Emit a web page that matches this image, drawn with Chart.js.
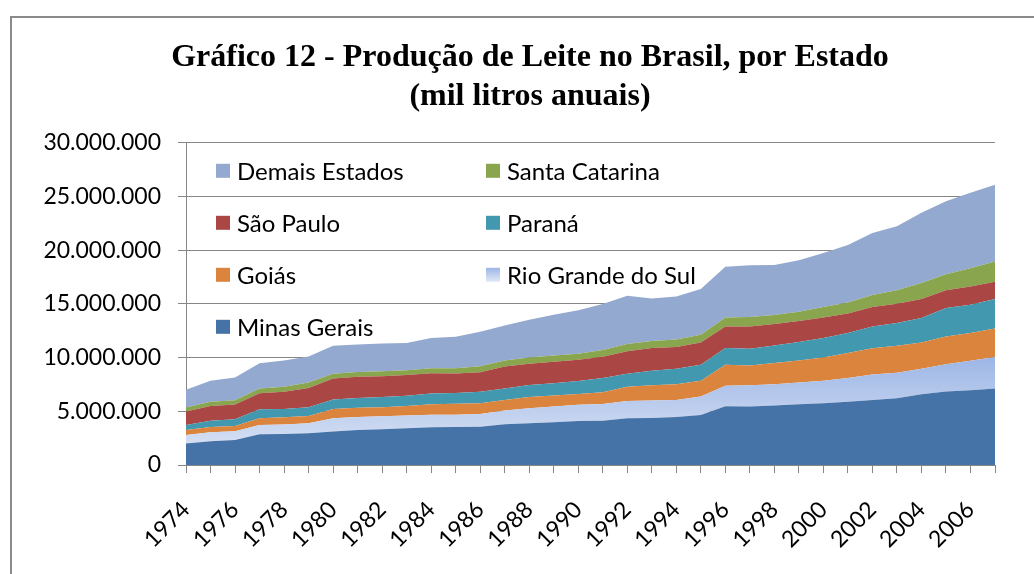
<!DOCTYPE html>
<html>
<head>
<meta charset="utf-8">
<script src="https://cdn.jsdelivr.net/npm/chart.js@4.4.0/dist/chart.umd.min.js"></script>
<style>
  html, body { margin: 0; padding: 0; background: #fff; }
  #wrap { width: 1034px; height: 574px; position: relative; }
</style>
</head>
<body>
<div id="wrap"><canvas id="c" width="1034" height="574"></canvas></div>
<script>
const years = ['1974','1975','1976','1977','1978','1979','1980','1981','1982','1983','1984','1985','1986','1987','1988','1989','1990','1991','1992','1993','1994','1995','1996','1997','1998','1999','2000','2001','2002','2003','2004','2005','2006','2007'];

const minasGerais = [2000000, 2210000, 2330000, 2860000, 2880000, 2950000, 3110000, 3260000, 3330000, 3420000, 3510000, 3530000, 3570000, 3800000, 3890000, 3980000, 4100000, 4130000, 4350000, 4380000, 4480000, 4660000, 5470000, 5440000, 5530000, 5660000, 5750000, 5880000, 6060000, 6220000, 6590000, 6840000, 6970000, 7120000];
const rioGrandeDoSul = [800000, 840000, 810000, 870000, 880000, 940000, 1240000, 1220000, 1210000, 1180000, 1180000, 1150000, 1190000, 1270000, 1400000, 1460000, 1500000, 1560000, 1620000, 1620000, 1580000, 1710000, 1900000, 1990000, 2000000, 2020000, 2090000, 2210000, 2370000, 2360000, 2370000, 2550000, 2730000, 2930000];
const goias = [460000, 490000, 500000, 620000, 690000, 680000, 870000, 840000, 840000, 900000, 970000, 1020000, 990000, 990000, 1050000, 1030000, 1020000, 1090000, 1310000, 1430000, 1470000, 1470000, 1960000, 1840000, 1960000, 2050000, 2160000, 2330000, 2450000, 2520000, 2450000, 2580000, 2590000, 2660000];
const parana = [470000, 590000, 620000, 840000, 770000, 810000, 870000, 930000, 940000, 940000, 990000, 1000000, 1060000, 1060000, 1120000, 1150000, 1190000, 1310000, 1210000, 1340000, 1430000, 1490000, 1570000, 1550000, 1640000, 1720000, 1820000, 1870000, 2020000, 2120000, 2270000, 2650000, 2640000, 2750000];
const saoPaulo = [1240000, 1370000, 1370000, 1500000, 1590000, 1800000, 1960000, 1960000, 1950000, 1930000, 1900000, 1820000, 1830000, 2050000, 1960000, 1990000, 1990000, 1980000, 2110000, 2120000, 2020000, 2080000, 2000000, 2080000, 1990000, 1950000, 1920000, 1820000, 1810000, 1800000, 1780000, 1640000, 1700000, 1610000];
const santaCatarina = [380000, 400000, 400000, 430000, 470000, 500000, 440000, 440000, 470000, 460000, 470000, 480000, 560000, 560000, 580000, 590000, 550000, 630000, 660000, 650000, 710000, 720000, 840000, 870000, 840000, 870000, 970000, 1030000, 1120000, 1240000, 1490000, 1490000, 1680000, 1870000];
const demaisEstados = [1650000, 1940000, 2120000, 2360000, 2450000, 2420000, 2610000, 2570000, 2580000, 2520000, 2800000, 2950000, 3200000, 3270000, 3530000, 3800000, 4050000, 4300000, 4510000, 3960000, 4010000, 4260000, 4710000, 4830000, 4670000, 4790000, 5040000, 5350000, 5780000, 5970000, 6530000, 6810000, 7030000, 7150000];

const yTicks = [0, 5000000, 10000000, 15000000, 20000000, 25000000, 30000000];

const seriesNames = ['Minas Gerais', 'Rio Grande do Sul', 'Goiás', 'Paraná', 'São Paulo', 'Santa Catarina', 'Demais Estados'];
const seriesData = [minasGerais, rioGrandeDoSul, goias, parana, saoPaulo, santaCatarina, demaisEstados];
const seriesColors = ['#4572A7', 'GRADIENT', '#DB843D', '#4198AF', '#AA4643', '#89A54E', '#93A9CF'];

const PAD_RIGHT = 39, PAD_BOTTOM = 0;
const AREA_LEFT = 186, AREA_BOTTOM = 465, H = 574;
const TITLE_LEFT = 65;
const LABEL_FONT = 'Lato';

function fmt(v) { return String(v).replace(/\B(?=(\d{3})+(?!\d))/g, '.'); }

function rgsGradient(ctx, y0, y1) {
  const g = ctx.createLinearGradient(0, y0, 0, y1);
  g.addColorStop(0, '#9db6e6');
  g.addColorStop(1, '#e2e9f6');
  return g;
}

function bgFor(i) {
  if (seriesColors[i] !== 'GRADIENT') return seriesColors[i];
  return function(context) {
    const chart = context.chart;
    const area = chart.chartArea;
    if (!area) return '#c5d3ee';
    const ys = chart.scales.y;
    let maxTop = 0;
    for (let k = 0; k < years.length; k++) maxTop = Math.max(maxTop, minasGerais[k] + rioGrandeDoSul[k]);
    return rgsGradient(chart.ctx, ys.getPixelForValue(maxTop), ys.getPixelForValue(0));
  };
}

const datasets = seriesNames.map((name, i) => ({
  label: name,
  data: seriesData[i],
  backgroundColor: bgFor(i),
  borderWidth: 0,
  borderColor: 'rgba(0,0,0,0)',
  pointRadius: 0,
  pointHoverRadius: 0,
  tension: 0,
  fill: i === 0 ? 'origin' : '-1'
}));

const frame = {
  id: 'frame',
  afterLayout(chart) {
    if (chart.titleBlock) {
      chart.titleBlock.left = TITLE_LEFT;
      chart.titleBlock.right = chart.chartArea.right;
    }
  },
  beforeDraw(chart) {
    const ctx = chart.ctx;
    ctx.save();
    ctx.fillStyle = '#fff';
    ctx.fillRect(0, 0, chart.width, chart.height);
    ctx.strokeStyle = '#8a8a8a';
    ctx.lineWidth = 2;
    ctx.beginPath();
    ctx.moveTo(11, chart.height + 5);
    ctx.lineTo(11, 17);
    ctx.lineTo(chart.width + 5, 17);
    ctx.stroke();
    ctx.restore();
  }
};

const insideLegend = {
  id: 'insideLegend',
  afterDraw(chart) {
    const ctx = chart.ctx;
    const area = chart.chartArea;
    const order = chart.data.datasets.map((d, i) => i).reverse();
    ctx.save();
    ctx.font = '24px ' + LABEL_FONT;
    ctx.textBaseline = 'middle';
    ctx.textAlign = 'left';
    order.forEach((dsIndex, k) => {
      const col = k % 2, row = Math.floor(k / 2);
      const sx = area.left + 30 + col * 270;
      const cy = area.top + 28 + row * 52;
      const sw = 14;
      let fill = seriesColors[dsIndex];
      if (fill === 'GRADIENT') fill = rgsGradient(ctx, cy - sw / 2, cy + sw / 2);
      ctx.fillStyle = fill;
      ctx.fillRect(sx, cy - sw / 2, sw, sw);
      ctx.fillStyle = '#000';
      ctx.fillText(chart.data.datasets[dsIndex].label, sx + 21, cy + 1);
    });
    ctx.restore();
  }
};

new Chart(document.getElementById('c'), {
  type: 'line',
  data: { labels: years, datasets: datasets },
  options: {
    responsive: false,
    animation: false,
    devicePixelRatio: 1,
    layout: { padding: { left: 0, right: PAD_RIGHT, top: 0, bottom: PAD_BOTTOM } },
    plugins: {
      legend: { display: false },
      tooltip: { enabled: false },
      title: {
        display: true,
        text: ['Gráfico 12 - Produção de Leite no Brasil, por Estado', '(mil litros anuais)'],
        color: '#000',
        font: { family: 'Liberation Serif', size: 32, weight: 'bold', lineHeight: 1.2 },
        padding: { top: 39, bottom: 27 }
      }
    },
    scales: {
      x: {
        stacked: true,
        offset: false,
        z: 1,
        ticks: {
          autoSkip: false,
          minRotation: 45,
          maxRotation: 45,
          padding: 23,
          color: '#000',
          font: { family: LABEL_FONT, size: 23 },
          callback: function(value, index) { return index % 2 === 0 ? years[index] : ''; }
        },
        grid: { drawOnChartArea: false, drawTicks: true, tickLength: 8, color: '#868686', lineWidth: 1 },
        border: { display: true, color: '#868686', width: 1 },
        afterFit: function(s) {
          s.height = H - AREA_BOTTOM - PAD_BOTTOM;
          s.paddingLeft = 0; s.paddingRight = 0;
        }
      },
      y: {
        stacked: true,
        min: yTicks[0],
        max: yTicks[yTicks.length - 1],
        afterBuildTicks: function(s) { s.ticks = yTicks.map(v => ({ value: v })); },
        ticks: {
          padding: 17,
          color: '#000',
          font: { family: LABEL_FONT, size: 23 },
          callback: function(v) { return fmt(v); }
        },
        grid: { color: '#868686', lineWidth: 1, tickLength: 8, drawTicks: true },
        border: { display: true, color: '#868686', width: 1 },
        afterFit: function(s) {
          s.width = AREA_LEFT;
          s.paddingTop = 0; s.paddingBottom = 0;
        }
      }
    }
  },
  plugins: [frame, insideLegend]
});
</script>
</body>
</html>
